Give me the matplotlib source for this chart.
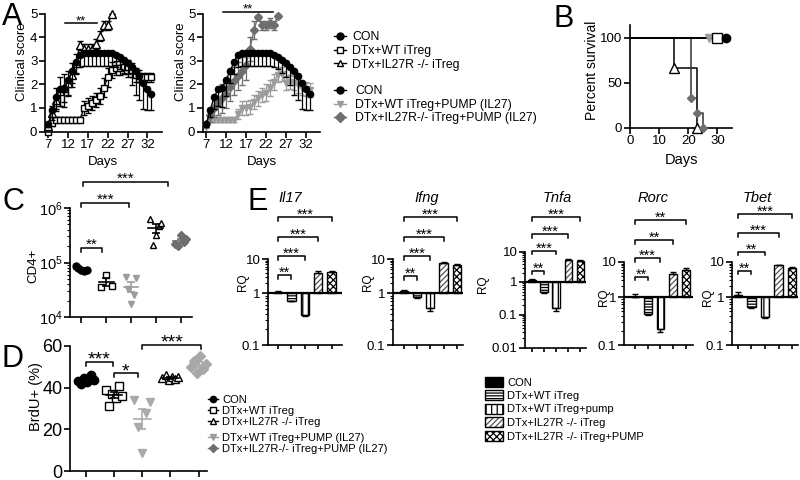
import numpy as np
import matplotlib
matplotlib.use('Agg')
import matplotlib.pyplot as plt
import matplotlib.transforms as mtrans
import matplotlib.ticker as mticker
from matplotlib.lines import Line2D
from matplotlib.patches import Rectangle

plt.rcParams['font.family'] = ['Liberation Sans', 'DejaVu Sans']
plt.rcParams['mathtext.fontset'] = 'custom'
plt.rcParams['mathtext.rm'] = 'Liberation Sans'
plt.rcParams['mathtext.it'] = 'Liberation Sans:italic'
plt.rcParams['axes.linewidth'] = 1.2
plt.rcParams['hatch.linewidth'] = 0.9

# ---------------- Panel A data (clinical score) ----------------
a_days = list(range(7, 34))
a_con = [0.3, 0.9, 1.45, 1.8, 1.85, 2.2, 2.55, 2.95, 3.25, 3.33, 3.33, 3.33, 3.33, 3.33,
         3.33, 3.33, 3.33, 3.25, 3.15, 3.05, 2.9, 2.75, 2.55, 2.35, 2.05, 1.8, 1.6]
a_con_err = [0.1, 0.3, 0.5, 0.7, 0.8, 0.7, 0.5, 0.5, 0.5, 0.55, 0.55, 0.55, 0.55, 0.55,
             0.55, 0.55, 0.55, 0.5, 0.5, 0.55, 0.6, 0.8, 1.0, 1.0, 1.1, 0.9, 0.7]
a_wt = [0.0, 0.35, 0.5, 0.5, 0.5, 0.5, 0.5, 0.5, 0.5, 1.0, 1.1, 1.2, 1.35, 1.5, 1.85,
        2.3, 2.6, 2.7, 2.7, 2.75, 2.75, 2.6, 2.4, 2.35, 2.3, 2.3, 2.3]
a_wt_err = [0, 0.1, 0.1, 0.1, 0.1, 0.1, 0.1, 0.1, 0.1, 0.3, 0.3, 0.3, 0.3, 0.35, 0.4,
            0.4, 0.35, 0.3, 0.3, 0.3, 0.3, 0.3, 0.3, 0.25, 0.2, 0.2, 0.2]
a_ko_days = list(range(7, 24))
a_ko = [0.25, 0.8, 1.35, 1.7, 1.85, 2.05, 2.4, 2.9, 3.65, 3.5, 3.5, 3.5, 3.7, 4.05, 4.5, 4.5, 5.0]
a_ko_err = [0.1, 0.3, 0.5, 0.6, 0.6, 0.5, 0.5, 0.4, 0.2, 0.2, 0.2, 0.2, 0.2, 0.2, 0.2, 0.2, 0.0]
a_pwt = [0.2, 0.5, 0.5, 0.5, 0.5, 0.5, 0.5, 0.5, 0.75, 1.0, 1.0, 1.05, 1.25, 1.4, 1.55,
         1.65, 1.85, 2.1, 2.4, 2.45, 2.05, 2.1, 2.05, 1.95, 1.85, 1.8, 1.75]
a_pwt_err = [0.05, 0.1, 0.1, 0.1, 0.1, 0.1, 0.1, 0.1, 0.2, 0.3, 0.3, 0.3, 0.3, 0.3, 0.3,
             0.35, 0.35, 0.35, 0.3, 0.3, 0.3, 0.3, 0.3, 0.3, 0.3, 0.3, 0.3]
a_pko_days = list(range(7, 26))
a_pko = [0.3, 0.7, 1.0, 1.2, 1.4, 1.6, 1.9, 2.15, 2.35, 2.55, 2.8, 3.5, 4.3, 4.85,
         4.5, 4.5, 4.6, 4.5, 4.9]
a_pko_err = [0.1, 0.3, 0.4, 0.5, 0.6, 0.6, 0.6, 0.6, 0.6, 0.6, 0.6, 0.5, 0.4, 0.1,
             0.2, 0.2, 0.2, 0.2, 0.1]
a_xticks = [7, 12, 17, 22, 27, 32]
a_yticks = [0, 1, 2, 3, 4, 5]
a_sig1 = (11.2, 19.2, '**')
a_sig2 = (11.2, 23.7, '**')

# ---------------- Panel B data (survival) ----------------
b_con_t, b_con_s = [0, 33], [100, 100]
b_wt_t, b_wt_s = [0, 30], [100, 100]
b_pwt_t, b_pwt_s = [0, 27], [100, 100]
b_ko_t, b_ko_s = [0, 15, 23], [100, 66.7, 0]
b_pko_t, b_pko_s = [0, 21, 23, 25], [100, 33.3, 16.7, 0]

# ---------------- Panel C data (CD4+ counts) ----------------
c_con = [8.6e4, 7.8e4, 7.2e4, 7.0e4, 7.3e4]
c_wt = [3.6e4, 5.9e4, 3.7e4]
c_pwt = [5.4e4, 3.3e4, 1.75e4, 2.5e4, 5.1e4]
c_ko = [6.2e5, 2.1e5, 3.2e5, 4.6e5, 5.3e5]
c_pko = [2.2e5, 2.0e5, 3.2e5, 2.4e5, 2.7e5]
c_sig = [(0, 0.85, '**'), (0, 1.93, '***'), (0.08, 3.5, '***')]

# ---------------- Panel D data (BrdU+) ----------------
d_con = [43, 42, 44.5, 42.5, 46, 43.5]
d_wt = [39, 31, 37, 35, 41, 36]
d_pwt = [34, 21, 8.5, 28, 33]
d_ko = [44.5, 46, 43.5, 45, 44, 45]
d_pko = [50, 53, 47, 55, 49, 51.5]
d_sig = [(0, 0.97, '***'), (1.0, 1.85, '*'), (2.0, 4.1, '***')]

# ---------------- Panel E data (RQ) ----------------
e_genes = ['Il17', 'Ifng', 'Tnfa', 'Rorc', 'Tbet']
e_vals = [[1.08, 0.72, 0.38, 3.9, 4.3],
          [1.12, 0.84, 0.51, 7.6, 6.8],
          [1.14, 0.50, 0.16, 5.5, 5.0],
          [1.00, 0.45, 0.22, 4.6, 6.0],
          [1.16, 0.62, 0.385, 8.0, 6.9]]
e_errs = [[0.06, 0.02, 0.02, 0.5, 0.2],
          [0.08, 0.02, 0.05, 0.3, 0.2],
          [0.06, 0.03, 0.03, 0.3, 0.3],
          [0.22, 0.02, 0.03, 0.5, 0.6],
          [0.20, 0.03, 0.02, 0.4, 0.3]]
e_sig = [['**', '***', '***', '***'],
         ['**', '***', '***', '***'],
         ['**', '***', '***', '***'],
         ['**', '***', '**', '**'],
         ['**', '**', '***', '***']]
e_yticks = [[0.1, 1, 10], [0.1, 1, 10], [0.01, 0.1, 1, 10], [0.1, 1, 10], [0.1, 1, 10]]

legA1 = ['CON', 'DTx+WT iTreg', 'DTx+IL27R -/- iTreg']
legA2 = ['CON', 'DTx+WT iTreg+PUMP (IL27)', 'DTx+IL27R-/- iTreg+PUMP (IL27)']
legE = ['CON', 'DTx+WT iTreg', 'DTx+WT iTreg+pump', 'DTx+IL27R -/- iTreg',
        'DTx+IL27R -/- iTreg+PUMP']

# ---------------- styles ----------------
LG = '#9c9c9c'
DG = '#6e6e6e'
S_CON = dict(marker='o', mfc='black', color='black')
S_WT = dict(marker='s', mfc='white', color='black')
S_KO = dict(marker='^', mfc='white', color='black')
S_PWT = dict(marker='v', mfc=LG, color=LG)
S_PKO = dict(marker='D', mfc=DG, color=DG)

W, H = 800, 480
fig = plt.figure(figsize=(W / 100, H / 100), dpi=100)


def fx(px):
    return px / W


def fy(py):
    return 1 - py / H


def add_ax(l, t, r, b):
    return fig.add_axes([l / W, 1 - b / H, (r - l) / W, (b - t) / H])


def style(ax, ls=9.5):
    for s in ('top', 'right'):
        ax.spines[s].set_visible(False)
    ax.tick_params(direction='out', length=4, width=1.2, colors='black',
                   labelsize=ls, pad=1.5)


def ftext(x, y, s, fs, ha='left', **kw):
    # y = visual centre of capitals in pixels
    fs_px = fs * 100 / 72
    fig.text(fx(x), fy(y + 0.36 * fs_px), s, fontsize=fs, ha=ha, va='baseline', **kw)


def vtext(x, y, s, fs):
    fig.text(fx(x), fy(y), s, fontsize=fs, rotation=90, ha='center', va='center')


def stars(ax, xd, yc, s, fs):
    tr = mtrans.blended_transform_factory(ax.transData, fig.transFigure)
    fs_px = fs * 100 / 72
    ax.text(xd, fy(yc + 0.575 * fs_px), s, transform=tr, ha='center',
            va='baseline', fontsize=fs, clip_on=False)


def bracket(ax, x0, x1, y, s, fs, tick=3.5, gap=7, lw=1.1):
    tr = mtrans.blended_transform_factory(ax.transData, fig.transFigure)
    if tick > 0:
        xs, ys = [x0, x0, x1, x1], [fy(y + tick), fy(y), fy(y), fy(y + tick)]
    else:
        xs, ys = [x0, x1], [fy(y), fy(y)]
    ax.add_line(Line2D(xs, ys, transform=tr, color='k', lw=lw, clip_on=False))
    stars(ax, (x0 + x1) / 2, y - gap, s, fs)


def noclip(container):
    for art in container.get_children():
        art.set_clip_on(False)


# ================= Panel A =================
axA1 = add_ax(45, 13.5, 161.7, 131.5)
axA2 = add_ax(203, 13.5, 320, 131.5)
for ax in (axA1, axA2):
    style(ax)
    ax.set_xlim(6.2, 35.6)
    ax.set_ylim(0, 5)
    ax.set_xticks(a_xticks)
    ax.set_yticks(a_yticks)

con_lo = [a_con_err, [0] * len(a_con_err)]

c = axA1.errorbar(a_days, a_wt, yerr=a_wt_err, fmt='-', marker='s', color='k', mfc='white',
                  ms=5, lw=1, elinewidth=0.9, capsize=2.5, zorder=2)
noclip(c)
c = axA1.errorbar(a_ko_days, a_ko, yerr=a_ko_err, fmt='-', marker='^', color='k', mfc='white',
                  ms=5.5, lw=1, elinewidth=0.9, capsize=2.5, zorder=3)
noclip(c)
c = axA1.errorbar(a_days, a_con, yerr=con_lo, fmt='-', marker='o', color='k', mfc='k',
                  ms=4.5, lw=1, elinewidth=0.9, capsize=2.5, zorder=4)
noclip(c)

c = axA2.errorbar(a_days, a_pwt, yerr=a_pwt_err, fmt='-', marker='v', color=LG, mfc=LG, mec=LG,
                  ms=5, lw=1, elinewidth=0.9, capsize=2.5, zorder=2)
noclip(c)
c = axA2.errorbar(a_pko_days, a_pko, yerr=a_pko_err, fmt='-', marker='D', color=DG, mfc=DG,
                  mec=DG, ms=4, lw=1, elinewidth=0.9, capsize=2.5, zorder=3)
noclip(c)
c = axA2.errorbar(a_days, a_con, yerr=con_lo, fmt='-', marker='o', color='k', mfc='k',
                  ms=4.5, lw=1, elinewidth=0.9, capsize=2.5, zorder=4)
noclip(c)

bracket(axA1, a_sig1[0], a_sig1[1], 22.7, a_sig1[2], 9.5, tick=0, gap=5.5)
bracket(axA2, a_sig2[0], a_sig2[1], 11.7, a_sig2[2], 9.5, tick=0, gap=6.5)

vtext(22, 62, 'Clinical score', 9.5)
vtext(181, 62, 'Clinical score', 9.5)
ftext(103, 160, 'Days', 9.5, ha='center')
ftext(262, 160, 'Days', 9.5, ha='center')


def legend_row(xm, y, label, st, fs, xt, ms=5, seg=6):
    fig.add_artist(Line2D([fx(xm - seg), fx(xm + seg)], [fy(y), fy(y)], color=st['color'], lw=1))
    fig.add_artist(Line2D([fx(xm)], [fy(y)], marker=st['marker'], ms=ms, mfc=st['mfc'],
                          mec=st['color'], ls='none', mew=1))
    ftext(xt, y, label, fs)


for lab, st, y in zip(legA1, [S_CON, S_WT, S_KO], [35.5, 49.5, 63.3]):
    legend_row(340, y, lab, st, 8.8, 352)
for lab, st, y in zip(legA2, [S_CON, S_PWT, S_PKO], [89.5, 103.5, 116.5]):
    legend_row(340, y, lab, st, 8.8, 355)

# ================= Panel B =================
axB = add_ax(630, 25, 732, 127.7)
style(axB, ls=9.5)
axB.set_xlim(0, 35)
axB.set_ylim(0, 114)
axB.set_xticks([0, 10, 20, 30])
axB.set_yticks([0, 50, 100])
b_sets = [(b_ko_t, b_ko_s, S_KO, 6.5, 'k'), (b_pko_t, b_pko_s, S_PKO, 4.5, '#333333'),
          (b_pwt_t, b_pwt_s, S_PWT, 6, 'k'), (b_wt_t, b_wt_s, S_WT, 6.5, 'k'),
          (b_con_t, b_con_s, S_CON, 6, 'k')]
for t, s, st, ms, lc in b_sets:
    axB.step(t, s, where='post', color=lc, lw=1.1, clip_on=False, zorder=2)
    if s[-1] > 0:
        mt, ms_ = t[-1:], s[-1:]
    else:
        mt, ms_ = t[1:], s[1:]
    axB.plot(mt, ms_, ls='none', marker=st['marker'], mfc=st['mfc'], mec=st['color'],
             ms=ms, mew=1, clip_on=False, zorder=3)
vtext(592, 70, 'Percent survival', 10)
ftext(681, 159, 'Days', 10.5, ha='center')

# ================= Panel C =================
axC = add_ax(70, 208, 192, 317)
style(axC, ls=10.5)
axC.set_yscale('log')
axC.set_ylim(1e4, 1e6)
axC.set_xlim(-0.45, 4.45)
axC.set_xticks([0, 1, 2, 3, 4])
axC.set_xticklabels([])
axC.tick_params(axis='y', which='minor', length=2, width=0.8)


def scatter_group(ax, x, vals, st, ms, hw, mcol, spread):
    v = np.asarray(vals, float)
    n = len(v)
    offs = np.linspace(-spread, spread, n)
    ax.plot(x + offs, v, ls='none', marker=st['marker'], mfc=st['mfc'], mec=st['color'],
            ms=ms, mew=1, zorder=3, clip_on=False)
    m = v.mean()
    se = v.std(ddof=1) / np.sqrt(n)
    ax.plot([x - hw, x + hw], [m, m], color=mcol, lw=1.2, zorder=4)
    ax.errorbar([x], [m], yerr=[[se], [se]], fmt='none', ecolor=mcol, elinewidth=1.2,
                capsize=3, capthick=1.2, zorder=4)


c_groups = [(c_con, S_CON, 'k'), (c_wt, S_WT, 'k'), (c_pwt, S_PWT, LG),
            (c_ko, S_KO, 'k'), (c_pko, S_PKO, DG)]
for i, (vals, st, mc) in enumerate(c_groups):
    ms = 4 if st['marker'] == 'D' else 5
    scatter_group(axC, i, vals, st, ms, 0.3, mc, 0.22)
for (x0, x1, s), y, g in zip(c_sig, [248.3, 203.3, 182], [8, 8, 8.5]):
    bracket(axC, x0, x1, y, s, 11, tick=4, gap=g)
vtext(33, 266, 'CD4+', 9.5)

# ================= Panel D =================
axD = add_ax(70, 346, 207, 471)
style(axD, ls=13)
axD.set_ylim(0, 60)
axD.set_xlim(-0.56, 4.3)
axD.set_yticks([0, 20, 40, 60])
axD.set_xticks([0, 1, 2, 3, 4])
axD.set_xticklabels([])
d_groups = [(d_con, S_CON, 'k'), (d_wt, S_WT, 'k'),
            (d_pwt, dict(S_PWT, mfc='#aaaaaa', color='#aaaaaa'), '#aaaaaa'),
            (d_ko, S_KO, 'k'), (d_pko, dict(S_PKO, mfc='#a8a8a8', color='#a8a8a8'), '#a8a8a8')]
for i, (vals, st, mc) in enumerate(d_groups):
    ms = 5 if st['marker'] == 'D' else 6
    scatter_group(axD, i, vals, st, ms, 0.3, mc, 0.28)
for (x0, x1, s), y, g in zip(d_sig, [362, 373, 345], [9, 7.5, 8.5]):
    bracket(axD, x0, x1, y, s, 14, tick=4, gap=g)
vtext(36, 397, 'BrdU+ (%)', 10.5)

d_leg = [('CON', S_CON, 399), ('DTx+WT iTreg', S_WT, 410), ('DTx+IL27R -/- iTreg', S_KO, 421),
         ('DTx+WT iTreg+PUMP (IL27)', S_PWT, 437), ('DTx+IL27R-/- iTreg+PUMP (IL27)', S_PKO, 448)]
for lab, st, y in d_leg:
    legend_row(213, y, lab, st, 8, 222, ms=4.5, seg=5)

# ================= Panel E =================
e_rects = [(268, 259, 342, 345), (393, 259, 463, 345), (525, 252, 586, 348),
           (624, 262, 693, 345), (732, 262, 798, 345)]
e_xlims = [(-0.75, 4.78), (-0.83, 4.47), (-0.58, 4.46), (-0.86, 4.55), (-0.44, 4.44)]
e_ratio = [1.52, 1.52, 1.11, 1.37, 1.37]
e_br_y = [[275, 256, 237, 217], [276, 256, 237, 217], [270.7, 250.7, 234, 217.3],
          [276.7, 258.3, 240, 220], [270.7, 251.7, 233.3, 214]]
e_title_x = [290, 427, 557, 653, 757]
e_rq = [(243, 282), (368, 282), (483, 284), (604, 297), (708, 297)]
e_styles = [dict(fc='black', hatch=None, hc='black'),
            dict(fc='white', hatch='------', hc='black'),
            dict(fc='white', hatch='|||', hc='black'),
            dict(fc='white', hatch='//////', hc='#555555'),
            dict(fc='white', hatch='xxxxx', hc='black')]


def make_scale(r):
    def fwd(y):
        y = np.asarray(y, dtype=float)
        ly = np.log10(np.clip(y, 1e-12, None))
        return np.where(ly >= 0, ly, r * ly)

    def inv(u):
        u = np.asarray(u, dtype=float)
        return np.where(u >= 0, 10.0 ** u, 10.0 ** (u / r))
    return fwd, inv


for gi in range(5):
    ax = add_ax(*e_rects[gi])
    style(ax, ls=9.5)
    fwd, inv = make_scale(e_ratio[gi])
    ax.set_yscale('function', functions=(fwd, inv))
    yt = e_yticks[gi]
    ax.set_ylim(yt[0], yt[-1])
    ax.set_xlim(*e_xlims[gi])
    ax.yaxis.set_major_locator(mticker.FixedLocator(yt))
    ax.yaxis.set_major_formatter(mticker.FuncFormatter(lambda v, p: '%g' % v))
    minors = [k * 10.0 ** d for d in range(-3, 2) for k in range(2, 10)
              if yt[0] < k * 10.0 ** d < yt[-1]]
    ax.yaxis.set_minor_locator(mticker.FixedLocator(minors))
    ax.yaxis.set_minor_formatter(mticker.NullFormatter())
    ax.tick_params(axis='y', which='minor', length=2, width=0.8)
    ax.set_xticks([0, 1, 2, 3, 4])
    ax.set_xticklabels([])
    ax.tick_params(axis='x', length=3)
    vals, errs = e_vals[gi], e_errs[gi]
    for i, (v, e) in enumerate(zip(vals, errs)):
        st = e_styles[i]
        ax.bar(i, v - 1, bottom=1, width=0.62, color=st['fc'], edgecolor=st['hc'],
               hatch=st['hatch'], lw=0, zorder=2)
        ax.bar(i, v - 1, bottom=1, width=0.62, fill=False, edgecolor='k', lw=1, zorder=3)
        lo, hi = (0, e) if v >= 1 else (e, 0)
        ax.errorbar([i], [v], yerr=[[lo], [hi]], fmt='none', ecolor='k', elinewidth=1,
                    capsize=2, zorder=4)
    ax.axhline(1, color='k', lw=1.6, zorder=5)
    for k, (s, y) in enumerate(zip(e_sig[gi], e_br_y[gi])):
        bracket(ax, 0, k + 1, y, s, 10.5, tick=3.5, gap=6.5)
    ftext(e_title_x[gi], 197, e_genes[gi], 10.5, ha='center', style='italic')
    vtext(e_rq[gi][0], e_rq[gi][1], 'RQ', 8.5)

# E legend
for i, (lab, y) in enumerate(zip(legE, [381.5, 395, 408.5, 422, 435.5])):
    st = e_styles[i]
    fig.add_artist(Rectangle((fx(485), fy(y + 5)), 18 / W, 10 / H, facecolor=st['fc'],
                             edgecolor=st['hc'], hatch=st['hatch'], lw=0))
    fig.add_artist(Rectangle((fx(485), fy(y + 5)), 18 / W, 10 / H, fill=False,
                             edgecolor='k', lw=1))
    ftext(507, y, lab, 8)

# Panel letters
for s, x, yb in [('A', 2, 25), ('B', 553, 26.7), ('C', 2, 210), ('D', 2, 366.7), ('E', 248, 210)]:
    fig.text(fx(x), fy(yb), s, fontsize=22, ha='left', va='baseline')

fig.savefig('out.png', dpi=100)
